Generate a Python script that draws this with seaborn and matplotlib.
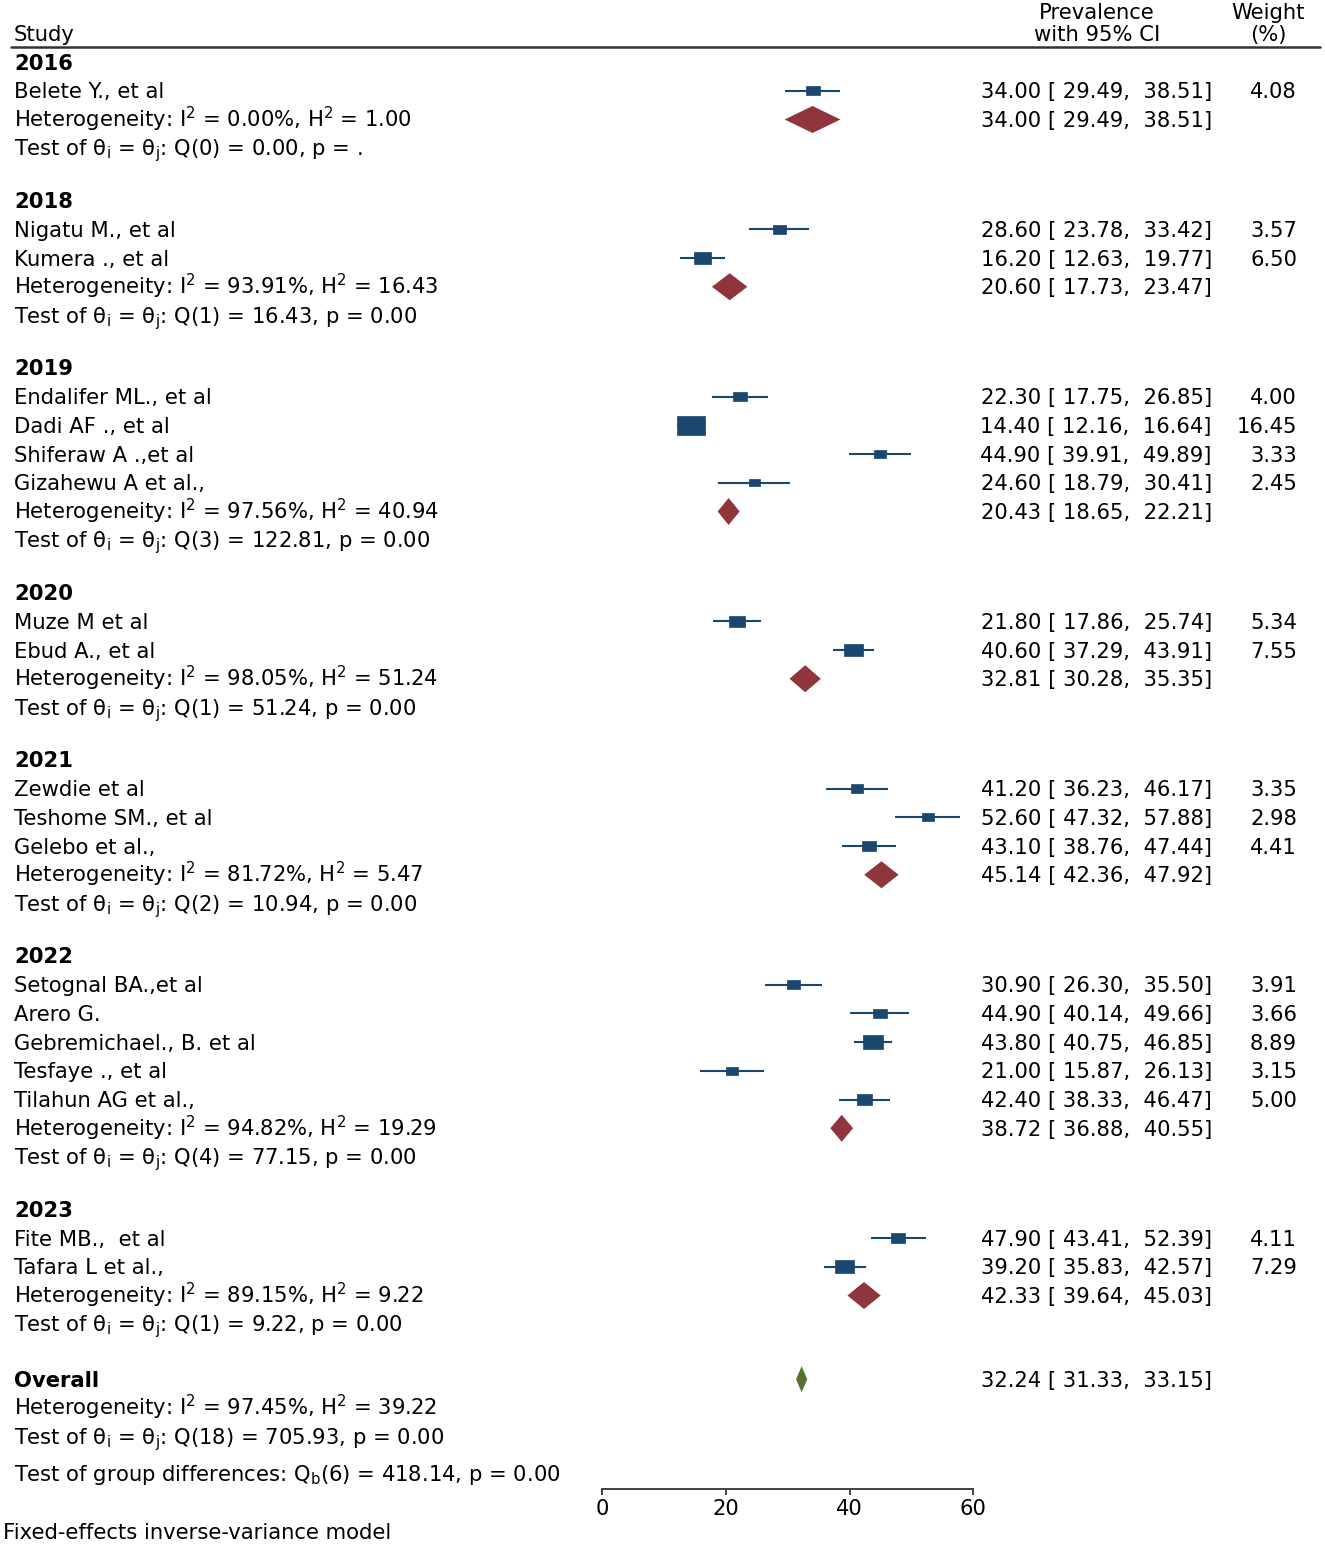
import numpy as np
import pandas as pd
import matplotlib
matplotlib.use("Agg")
import matplotlib.pyplot as plt
import matplotlib.transforms as mtransforms
from matplotlib.path import Path
import seaborn as sns

# study level data
study_year = [2016, 2018, 2018, 2019, 2019, 2019, 2019, 2020, 2020,
              2021, 2021, 2021, 2022, 2022, 2022, 2022, 2022, 2023, 2023]
study_name = ["Belete Y., et al", "Nigatu M., et al", "Kumera ., et al",
              "Endalifer ML., et al", "Dadi AF ., et al", "Shiferaw A .,et al",
              "Gizahewu A et al.,", "Muze M et al", "Ebud A., et al",
              "Zewdie et al", "Teshome SM., et al", "Gelebo et al.,",
              "Setognal BA.,et al", "Arero G.", "Gebremichael., B. et al",
              "Tesfaye ., et al", "Tilahun AG et al.,", "Fite MB.,  et al",
              "Tafara L et al.,"]
study_est = [34.00, 28.60, 16.20, 22.30, 14.40, 44.90, 24.60, 21.80, 40.60,
             41.20, 52.60, 43.10, 30.90, 44.90, 43.80, 21.00, 42.40, 47.90, 39.20]
study_lo = [29.49, 23.78, 12.63, 17.75, 12.16, 39.91, 18.79, 17.86, 37.29,
            36.23, 47.32, 38.76, 26.30, 40.14, 40.75, 15.87, 38.33, 43.41, 35.83]
study_hi = [38.51, 33.42, 19.77, 26.85, 16.64, 49.89, 30.41, 25.74, 43.91,
            46.17, 57.88, 47.44, 35.50, 49.66, 46.85, 26.13, 46.47, 52.39, 42.57]
study_weight = [4.08, 3.57, 6.50, 4.00, 16.45, 3.33, 2.45, 5.34, 7.55,
                3.35, 2.98, 4.41, 3.91, 3.66, 8.89, 3.15, 5.00, 4.11, 7.29]

# subgroup summaries
group_year = [2016, 2018, 2019, 2020, 2021, 2022, 2023]
group_est = [34.00, 20.60, 20.43, 32.81, 45.14, 38.72, 42.33]
group_lo = [29.49, 17.73, 18.65, 30.28, 42.36, 36.88, 39.64]
group_hi = [38.51, 23.47, 22.21, 35.35, 47.92, 40.55, 45.03]
group_i2 = ["0.00", "93.91", "97.56", "98.05", "81.72", "94.82", "89.15"]
group_h2 = ["1.00", "16.43", "40.94", "51.24", "5.47", "19.29", "9.22"]
group_qdf = [0, 1, 3, 1, 2, 4, 1]
group_q = ["0.00", "16.43", "122.81", "51.24", "10.94", "77.15", "9.22"]
group_p = [".", "0.00", "0.00", "0.00", "0.00", "0.00", "0.00"]

# overall
overall_est, overall_lo, overall_hi = 32.24, 31.33, 33.15
overall_i2, overall_h2 = "97.45", "39.22"
overall_qdf, overall_q, overall_p = 18, "705.93", "0.00"
qb_df, qb, qb_p = 6, "418.14", "0.00"

x_ticks = [0, 20, 40, 60]

BLUE = "#1a476f"
MAROON = "#90353b"
GREEN = "#55752f"
FS = 15.2

sns.set_style("white")
plt.rcParams["font.family"] = ["DejaVu Sans"]
plt.rcParams["mathtext.fontset"] = "dejavusans"
plt.rcParams["text.color"] = "black"
plt.rcParams["xtick.color"] = "black"

W, H = 1325, 1544
fig = plt.figure(figsize=(W / 100, H / 100), dpi=100)
axis_y = 1489
ax = fig.add_axes([602.3 / W, (H - axis_y) / H, 371 / W, axis_y / H])
ax.set_xlim(0, 60)
ax.set_ylim(axis_y, 0)
tr = mtransforms.blended_transform_factory(fig.transFigure, ax.transData)

# put text baseline so that cap height is centred on the row
BASE = 7.6

def put(x, y, s, **kw):
    kw.setdefault("fontsize", FS)
    ax.text(x, y + BASE, s, transform=tr, va="baseline", **kw)

def het_text(i2, h2):
    return f"Heterogeneity: I$^\\mathregular{{2}}$ = {i2}%, H$^\\mathregular{{2}}$ = {h2}"

def test_text(df, q, p):
    return f"Test of θ$_\\mathregular{{i}}$ = θ$_\\mathregular{{j}}$: Q({df}) = {q}, p = {p}"

def ci_text(e, l, h):
    return f"{e:.2f} [ {l:.2f},  {h:.2f}]"

# layout
row = 28.75
gap = 23.5
x_left = 14 / W
x_ci = 1212 / W
x_w = 1297 / W

studies = pd.DataFrame({"year": study_year, "name": study_name, "est": study_est,
                        "lo": study_lo, "hi": study_hi, "weight": study_weight})
groups = pd.DataFrame({"year": group_year, "est": group_est, "lo": group_lo,
                       "hi": group_hi})

ypos = []
gy = []
y = 62
for gi, yr in enumerate(group_year):
    put(x_left, y, str(yr), fontweight="bold")
    y += row
    sub = studies[studies.year == yr]
    for _, r in sub.iterrows():
        put(x_left, y, r["name"])
        put(x_ci, y, ci_text(r.est, r.lo, r.hi), ha="right")
        put(x_w, y, f"{r.weight:.2f}", ha="right")
        ypos.append(y)
        y += row
    put(x_left, y, het_text(group_i2[gi], group_h2[gi]))
    put(x_ci, y, ci_text(group_est[gi], group_lo[gi], group_hi[gi]), ha="right")
    gy.append(y)
    y += row
    put(x_left, y, test_text(group_qdf[gi], group_q[gi], group_p[gi]))
    last = y
    y += row + gap

studies["ypos"] = ypos
groups["ypos"] = gy

# study CIs and weighted boxes
ax.hlines(studies.ypos, studies.lo, studies.hi, color=BLUE, lw=1.5, zorder=2)
box = Path([(-1, -0.68), (1, -0.68), (1, 0.68), (-1, 0.68), (-1, -0.68)])
wmin, wmax = studies.weight.min(), studies.weight.max()
sns.scatterplot(data=studies, x="est", y="ypos", size="weight",
                sizes=(24.7 * wmin, 24.7 * wmax), size_norm=(wmin, wmax),
                marker=box, color=BLUE, edgecolor=BLUE, linewidth=0.5,
                legend=False, ax=ax, zorder=3, clip_on=False)

# subgroup diamonds
dh = 13.5
for _, g in groups.iterrows():
    ax.fill([g.lo, g.est, g.hi, g.est], [g.ypos, g.ypos - dh, g.ypos, g.ypos + dh],
            color=MAROON, lw=0, zorder=3)

# overall
y_ov = last + 55
put(x_left, y_ov, "Overall", fontweight="bold")
put(x_ci, y_ov, ci_text(overall_est, overall_lo, overall_hi), ha="right")
ax.fill([overall_lo, overall_est, overall_hi, overall_est],
        [y_ov, y_ov - 13, y_ov, y_ov + 13], color=GREEN, lw=0, zorder=3)
put(x_left, y_ov + row, het_text(overall_i2, overall_h2))
put(x_left, y_ov + 2 * row, test_text(overall_qdf, overall_q, overall_p))
put(x_left, y_ov + 2 * row + 37,
    f"Test of group differences: Q$_\\mathregular{{b}}$({qb_df}) = {qb}, p = {qb_p}")

# header
put(x_left, 33, "Study")
put(1097 / W, 11, "Prevalence", ha="center")
put(1097 / W, 33, "with 95% CI", ha="center")
put(1268 / W, 11, "Weight", ha="center")
put(1268 / W, 33, "(%)", ha="center")
ax.plot([11 / W, 1320 / W], [47, 47], transform=tr, color="#333333", lw=1.8, clip_on=False)

fig.text(3 / W, 1 - 1533 / H, "Fixed-effects inverse-variance model", fontsize=FS, va="center")

# axis
for s in ["top", "left", "right"]:
    ax.spines[s].set_visible(False)
ax.spines["bottom"].set_color("#404040")
ax.spines["bottom"].set_linewidth(1.4)
ax.set_xticks(x_ticks)
ax.set_yticks([])
ax.tick_params(axis="x", direction="out", length=4.5, width=1.4, color="#404040",
               labelsize=FS, pad=3, bottom=True)
ax.set_xlabel("")
ax.set_ylabel("")
ax.patch.set_alpha(0)

fig.savefig("out.png", dpi=100)
